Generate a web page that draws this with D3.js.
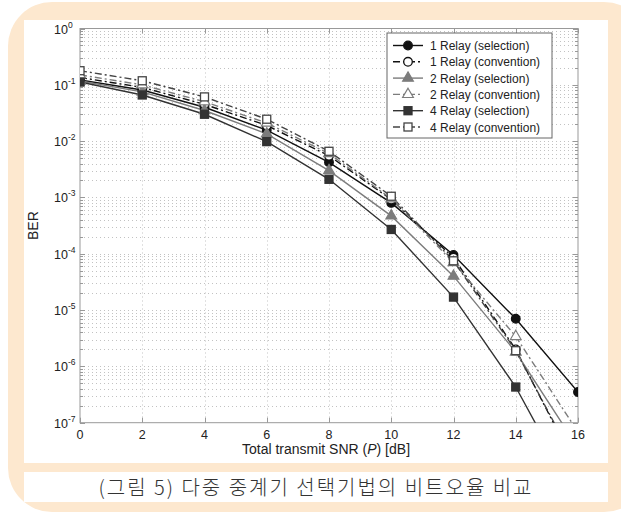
<!DOCTYPE html>
<html>
<head>
<meta charset="utf-8">
<script src="https://cdn.jsdelivr.net/npm/d3@7"></script>
<style>
  body { margin: 0; background: #fff; }
  svg text { font-family: "Liberation Sans", Arial, sans-serif; }
</style>
</head>
<body>
<div class="chart"></div>
<script>
// chart values
const snr = [0, 2, 4, 6, 8, 10, 12, 14, 16];
const sel1 = [0.122, 0.081, 0.040, 0.0157, 0.0042, 0.0008, 9.5e-5, 7e-6, 3.5e-7];
const conv1 = [0.135, 0.090, 0.045, 0.019, 0.0055, 0.00092, 8.5e-5, 2.0e-6, 1.4e-8];
const sel2 = [0.117, 0.075, 0.035, 0.0135, 0.003, 0.00047, 4e-5, 1.8e-6, 3.6e-8];
const conv2 = [0.150, 0.100, 0.050, 0.021, 0.006, 0.00095, 7e-5, 3.4e-6, 6.8e-8];
const sel4 = [0.112, 0.066, 0.030, 0.0098, 0.0021, 0.00027, 1.7e-5, 4.3e-7, 4e-9];
const conv4 = [0.178, 0.118, 0.061, 0.0245, 0.0066, 0.00105, 7.5e-5, 1.9e-6, 1.6e-8];
const seriesNames = ["1 Relay (selection)", "1 Relay (convention)", "2 Relay (selection)",
  "2 Relay (convention)", "4 Relay (selection)", "4 Relay (convention)"];
const xTicks = [0, 2, 4, 6, 8, 10, 12, 14, 16];
const yExps = [0, -1, -2, -3, -4, -5, -6, -7];
const caption = "(그림 5) 다중 중계기 선택기법의 비트오율 비교";

const series = [
  {name: seriesNames[0], values: sel1, color: "#111", shape: "circle", filled: true, dash: null},
  {name: seriesNames[1], values: conv1, color: "#111", shape: "circle", filled: false, dash: "7,3,2,3"},
  {name: seriesNames[2], values: sel2, color: "#7c7c7c", shape: "triangle", filled: true, dash: null},
  {name: seriesNames[3], values: conv2, color: "#7c7c7c", shape: "triangle", filled: false, dash: "7,3,2,3"},
  {name: seriesNames[4], values: sel4, color: "#333", shape: "square", filled: true, dash: null},
  {name: seriesNames[5], values: conv4, color: "#444", shape: "square", filled: false, dash: "7,3,2,3"}
];

const W = 621, H = 514;
const svg = d3.select(".chart").append("svg")
  .attr("width", W).attr("height", H);

// frame decoration
svg.append("rect").attr("x", 8).attr("y", 2).attr("width", 640).attr("height", 510)
  .attr("rx", 44).attr("fill", "#fde8cf");
svg.append("rect").attr("x", 24).attr("y", 20).attr("width", 584).attr("height", 443).attr("fill", "#fff");
svg.append("rect").attr("x", 24).attr("y", 472).attr("width", 584).attr("height", 30).attr("fill", "#fff");

const pL = 80, pR = 578, pT = 28.5, pB = 422.7;
const x = d3.scaleLinear().domain([0, 16]).range([pL, pR]);
const y = d3.scaleLog().domain([1e-7, 1]).range([pB, pT]);

svg.append("clipPath").attr("id", "clip")
  .append("rect").attr("x", pL).attr("y", pT).attr("width", pR - pL).attr("height", pB - pT);

// grid
const grid = svg.append("g").attr("stroke", "#c2c2c2").attr("stroke-width", 1)
  .attr("stroke-dasharray", "1,3");
const yGrid = [];
for (let e = -7; e < 0; e++) for (let k = 1; k <= 9; k++) yGrid.push(k * Math.pow(10, e));
grid.selectAll(".hg").data(yGrid.filter(v => v > 1e-7)).join("line")
  .attr("x1", pL).attr("x2", pR)
  .attr("y1", d => Math.round(y(d)) + 0.5).attr("y2", d => Math.round(y(d)) + 0.5);
grid.selectAll(".vg").data(xTicks.slice(1, -1)).join("line")
  .attr("y1", pT).attr("y2", pB)
  .attr("x1", d => Math.round(x(d)) + 0.5).attr("x2", d => Math.round(x(d)) + 0.5);

// ticks
const tk = svg.append("g").attr("stroke", "#999").attr("stroke-width", 1);
xTicks.forEach(t => {
  const px = Math.round(x(t)) + 0.5;
  tk.append("line").attr("x1", px).attr("x2", px).attr("y1", pB).attr("y2", pB - 5);
  tk.append("line").attr("x1", px).attr("x2", px).attr("y1", pT).attr("y2", pT + 5);
});
yGrid.concat([1]).forEach(v => {
  const py = Math.round(y(v)) + 0.5;
  const len = Math.abs(Math.log10(v) - Math.round(Math.log10(v))) < 1e-9 ? 5 : 3;
  tk.append("line").attr("x1", pL).attr("x2", pL + len).attr("y1", py).attr("y2", py);
  tk.append("line").attr("x1", pR).attr("x2", pR - len).attr("y1", py).attr("y2", py);
});
svg.append("rect").attr("x", pL).attr("y", pT).attr("width", pR - pL).attr("height", pB - pT)
  .attr("fill", "none").attr("stroke", "#999").attr("stroke-width", 1);

// tick labels
svg.append("g").selectAll("text").data(xTicks).join("text")
  .attr("x", d => x(d)).attr("y", pB + 16)
  .attr("text-anchor", "middle").attr("font-size", 12.5).attr("fill", "#222")
  .text(d => d);
const yl = svg.append("g").selectAll("g").data(yExps).join("g")
  .attr("transform", d => `translate(${pL - 12},${y(Math.pow(10, d)) + 5})`);
yl.append("text").attr("text-anchor", "end").attr("font-size", 12.5).attr("fill", "#222").text("10");
yl.append("text").attr("x", 0).attr("y", -6).attr("font-size", 8.5).attr("fill", "#222").text(d => d);

// axis labels
const xl = svg.append("text").attr("x", (pL + pR) / 2 - 3).attr("y", pB + 31)
  .attr("text-anchor", "middle").attr("font-size", 14).attr("fill", "#222");
xl.append("tspan").text("Total transmit SNR (");
xl.append("tspan").attr("font-style", "italic").text("P");
xl.append("tspan").text(") [dB]");
svg.append("text").attr("transform", `translate(38,${(pT + pB) / 2}) rotate(-90)`)
  .attr("text-anchor", "middle").attr("font-size", 14).attr("fill", "#222").text("BER");

// markers
function marker(g, s, cx, cy) {
  const fill = s.filled ? s.color : "#fff";
  if (s.shape === "circle") {
    g.append("circle").attr("cx", cx).attr("cy", cy).attr("r", 4.3)
      .attr("fill", fill).attr("stroke", s.color).attr("stroke-width", 1.3);
  } else if (s.shape === "triangle") {
    g.append("path").attr("d", d3.symbol(d3.symbolTriangle, 50)())
      .attr("transform", `translate(${cx},${cy})`)
      .attr("fill", fill).attr("stroke", s.color).attr("stroke-width", 1.2);
  } else {
    g.append("rect").attr("x", cx - 4).attr("y", cy - 4).attr("width", 8).attr("height", 8)
      .attr("fill", fill).attr("stroke", s.color).attr("stroke-width", 1.3);
  }
}

const line = d3.line().x((d, i) => x(snr[i])).y(d => y(d));
const plot = svg.append("g").attr("clip-path", "url(#clip)");
series.forEach(s => {
  plot.append("path").attr("d", line(s.values)).attr("fill", "none")
    .attr("stroke", s.color).attr("stroke-width", 1.4)
    .attr("stroke-dasharray", s.dash);
});
series.forEach(s => {
  const g = plot.append("g");
  s.values.forEach((v, i) => marker(g, s, x(snr[i]), y(v)));
});

// legend
const lg = svg.append("g").attr("transform", "translate(387,33)");
lg.append("rect").attr("width", 165).attr("height", 105).attr("fill", "#fff")
  .attr("stroke", "#666").attr("stroke-width", 1);
series.forEach((s, i) => {
  const ry = 12.5 + i * 16.3;
  lg.append("line").attr("x1", 6).attr("x2", 36).attr("y1", ry).attr("y2", ry)
    .attr("stroke", s.color).attr("stroke-width", 1.4).attr("stroke-dasharray", s.dash);
  marker(lg, s, 21, ry);
  lg.append("text").attr("x", 43).attr("y", ry + 4.5).attr("font-size", 12).attr("fill", "#222").text(s.name);
});

// caption
svg.append("text").attr("x", 316).attr("y", 495).attr("text-anchor", "middle")
  .attr("font-size", 20).attr("fill", "#333").attr("letter-spacing", 2)
  .style("font-family", "'Noto Sans CJK KR', sans-serif").style("font-weight", 300)
  .text(caption);
</script>
</body>
</html>
